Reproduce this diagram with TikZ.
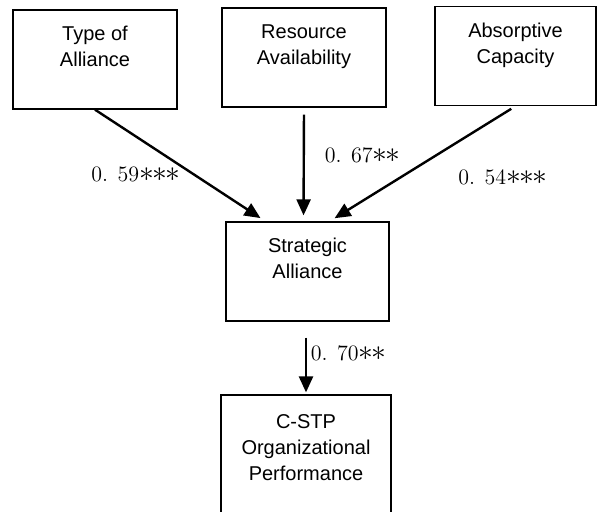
\documentclass[tikz,border=0pt]{standalone}
\usepackage{fontspec}
\setsansfont{Liberation Sans}
\usepackage{tikz}
\usetikzlibrary{arrows.meta,positioning,calc}

\newcommand{\sigmark}{\scalebox{1.35}{$\ast$}\kern-0.8pt}

\tikzset{
  factor/.style={draw,line width=0.65pt,minimum height=49.5pt,inner sep=0pt,
    align=center,font=\sffamily\fontsize{10}{13}\selectfont},
  effect/.style={-{Triangle[length=8pt,width=7pt]},line width=1.2pt},
  coef/.style={font=\fontsize{11}{13}\selectfont}
}

\begin{document}
\begin{tikzpicture}[x=0.5pt,y=-0.5pt]
\clip (0,0) rectangle (597,511);
\node[factor,minimum width=82pt] (type) at (95,59.5) {Type of\\Alliance\\~};
\node[factor,minimum width=82pt] (resource) at (304,57.5) {Resource\\Availability\\~};
\node[factor,minimum width=80.5pt] (absorb) at (515.5,56) {Absorptive\\Capacity\\~};
\node[factor,minimum width=81.5pt] (strat) at (307.5,271.5) {Strategic\\Alliance\\~};
\node[factor,minimum width=85pt,minimum height=65pt] (perf) at (306,460) {C-STP\\Organizational\\Performance\\~};
% path coefficients
\draw[effect,shorten >=3pt] (type.south) -- ($(strat.north)+(-42,0)$);
\draw[effect,shorten <=3.5pt,shorten >=3pt] (resource.south) -- ($(strat.north)+(-4,0)$);
\draw[effect,shorten <=2.5pt,shorten >=3pt] (absorb.south) -- ($(strat.north)+(22,0)$);
\draw[effect,shorten <=8pt,shorten >=1pt] (perf.north |- strat.south) -- (perf.north);
\node[coef] (c59) at (135,174) {0. 59\sigmark\sigmark\sigmark};
\node[coef] (c67) at (362,155) {0. 67\sigmark\sigmark};
\node[coef] (c54) at (502,177) {0. 54\sigmark\sigmark\sigmark};
\node[coef] (c70) at (348,353) {0. 70\sigmark\sigmark};
\end{tikzpicture}
\end{document}
